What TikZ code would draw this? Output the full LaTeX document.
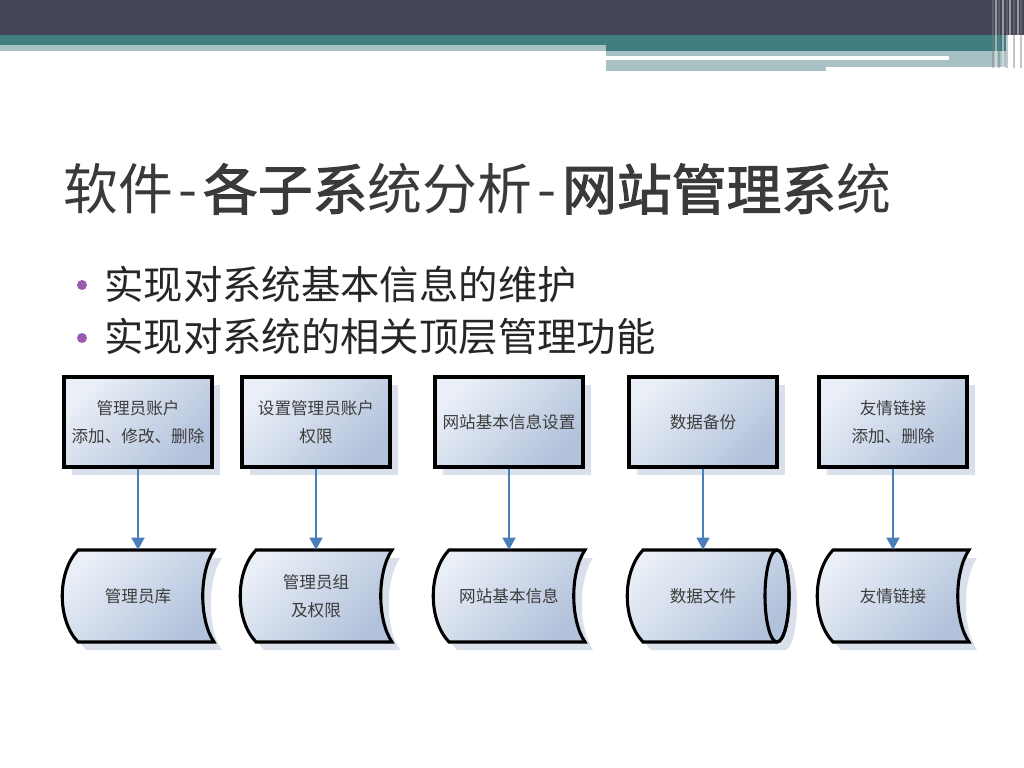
\documentclass[tikz,border=0pt]{standalone}
\usepackage{fontspec}
\newfontfamily\cjk{Noto Sans CJK SC}
\newfontfamily\cjkheavy{Noto Sans CJK SC}[FakeBold=2]
\usetikzlibrary{positioning,arrows.meta,calc,shadows,backgrounds}
\definecolor{headdark}{HTML}{434457}
\definecolor{headteal}{HTML}{3F7D80}
\definecolor{headlight}{HTML}{A8C1C4}
\definecolor{titlegray}{HTML}{3A3A3A}
\definecolor{bulletpurple}{HTML}{9A5BAE}
\definecolor{boxlight}{HTML}{EAEFF7}
\definecolor{boxdark}{HTML}{B2C2DB}
\definecolor{shadowblue}{HTML}{D9E0EC}
\definecolor{arrowblue}{HTML}{4A7EBB}
\definecolor{textgray}{HTML}{3C3C3C}
% outline of a stored-data symbol, in px round the node centre
\newcommand{\storedpath}{(-60,-46) -- (76,-46) .. controls (61,-24) and (61,24) .. (76,46) -- (-60,46) .. controls (-81,24) and (-81,-24) .. cycle}
\newcommand{\diskpath}{(-60,-46) -- (74,-46) arc[start angle=-90, end angle=90, x radius=12, y radius=46] -- (-60,46) .. controls (-81,24) and (-81,-24) .. cycle}
\newcommand{\dash}{\kern0.1em-\kern0.1em}

\begin{document}
\begin{tikzpicture}[x=0.025cm, y=-0.025cm,
  font=\cjk,
  topbox/.style={draw=black, line width=2.2pt, minimum width=3.7cm, minimum height=2.25cm, inner sep=2pt, align=center, text=textgray, font=\cjk\fontsize{11.8}{20}\selectfont, left color=boxlight, right color=boxdark, shading angle=45, drop shadow={shadow xshift=0.2cm, shadow yshift=-0.2cm, fill=shadowblue, opacity=1}},
  storenode/.style={minimum width=3.8cm, minimum height=2.3cm, inner sep=2pt, align=center, text=textgray, font=\cjk\fontsize{11.8}{20}\selectfont},
  storeline/.style={draw=black, line width=2.2pt, left color=boxlight, right color=boxdark, shading angle=45},
  arr/.style={-{Triangle[length=3mm, width=3.2mm]}, draw=arrowblue, fill=arrowblue, line width=1.6pt},
  dot/.style={circle, fill=bulletpurple, inner sep=0, minimum size=0.25cm},
  bullet/.style={anchor=west, inner sep=0, text=black!85, font=\cjk\fontsize{28}{32}\selectfont},
]
  \useasboundingbox (0,0) rectangle (1024,768);

  % header bands
  \fill[headdark] (0,0) rectangle (1024,35);
  \fill[headteal] (0,35) rectangle (1006,45);
  \fill[headlight] (0,45) rectangle (606,51);
  \fill[headteal] (606,45) rectangle (1006,51);
  \fill[headlight] (606,51) rectangle (1006,67);
  \fill[headlight] (606,67) rectangle (826,71);
  \fill[white] (606,56.5) rectangle (949,60);
  \foreach \x/\c in {993/gray, 996/white, 999/gray, 1003/white, 1007/gray, 1010/white, 1014/gray, 1018/white, 1021/gray}
    \draw[\c, opacity=0.45, line width=0.05cm] (\x,0) -- (\x,68);

  % title and bullets
  \node[anchor=west, inner sep=0, text=titlegray, font=\cjk\fontsize{39}{42}\selectfont] (title) at (63,189)
    {软件\dash{\cjkheavy 各子系}统分析\dash{\cjkheavy 网站管理系}统};
  \node[bullet] (bul1) at (104,284) {实现对系统基本信息的维护};
  \node[bullet] (bul2) at (104,337) {实现对系统的相关顶层管理功能};
  \node[dot] (dot1) at (82,285) {};
  \node[dot] (dot2) at (82,338) {};

  % functions
  \node[topbox] (admin)  at (138,422) {管理员账户\\添加、修改、删除};
  \node[topbox] (rights) at (316,422) {设置管理员账户\\权限};
  \node[topbox] (site)   at (509,422) {网站基本信息设置};
  \node[topbox] (backup) at (703,422) {数据备份};
  \node[topbox] (links)  at (893,422) {友情链接\\添加、删除};

  % data stores
  \node[storenode] (admindb)  at (138,596) {管理员库};
  \node[storenode] (groupdb)  at (316,596) {管理员组\\及权限};
  \node[storenode] (sitedb)   at (509,596) {网站基本信息};
  \node[storenode] (files)    at (703,596) {数据文件};
  \node[storenode] (linkdb)   at (893,596) {友情链接};

  \begin{scope}[on background layer]
    \foreach \n in {admindb,groupdb,sitedb,linkdb}{
      \begin{scope}[shift={(\n.center)}]
        \fill[shadowblue] [shift={(8,8)}] \storedpath;
        \path[storeline] \storedpath;
      \end{scope}}
    \begin{scope}[shift={(files.center)}]
      \fill[shadowblue] [shift={(8,8)}] \diskpath;
      \path[storeline] \diskpath;
      \draw[line width=2.2pt] (74,0) ellipse[x radius=12, y radius=46];
    \end{scope}
  \end{scope}

  \draw[arr] (admin) -- (admindb);
  \draw[arr] (rights) -- (groupdb);
  \draw[arr] (site) -- (sitedb);
  \draw[arr] (backup) -- (files);
  \draw[arr] (links) -- (linkdb);
\end{tikzpicture}
\end{document}
